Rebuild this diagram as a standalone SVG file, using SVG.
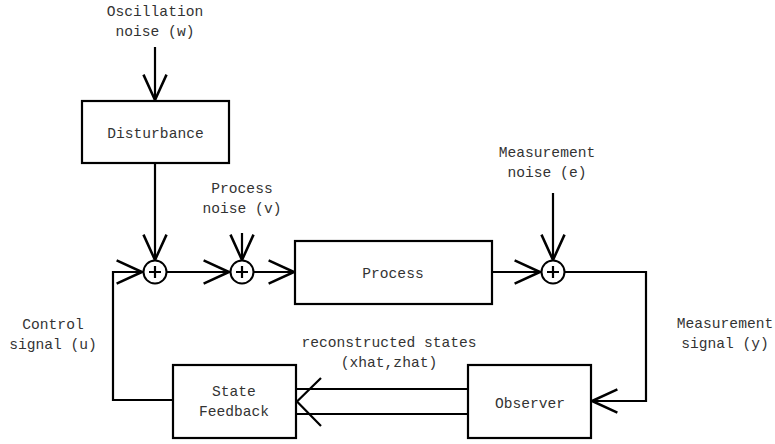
<svg xmlns="http://www.w3.org/2000/svg" width="775" height="444" viewBox="0 0 775 444">
<style>
.box{fill:#fff;stroke:#000;stroke-width:2.2}
.ln{fill:none;stroke:#000;stroke-width:2.2}
.sum{fill:#fff;stroke:#000;stroke-width:2}
text{font-family:"Liberation Mono","Courier New",monospace;font-size:14.6px;fill:#333;text-anchor:middle}
</style>
<defs>
<marker id="ah" markerUnits="userSpaceOnUse" markerWidth="30" markerHeight="30" viewBox="-24 -12 26 24" refX="0" refY="0" orient="auto">
<path d="M-22,-10 L0,0 L-22,10" fill="none" stroke="#000" stroke-width="2.2"/>
</marker>
</defs>
<rect width="775" height="444" fill="#fff"/>
<g id="connectors">
<line class="ln" x1="155" y1="47" x2="155" y2="100" marker-end="url(#ah)"/>
<line class="ln" x1="155" y1="163" x2="155" y2="260" marker-end="url(#ah)"/>
<line class="ln" x1="167" y1="272" x2="229" y2="272" marker-end="url(#ah)"/>
<line class="ln" x1="242" y1="233" x2="242" y2="260" marker-end="url(#ah)"/>
<line class="ln" x1="254" y1="272" x2="294" y2="272" marker-end="url(#ah)"/>
<line class="ln" x1="492" y1="272" x2="540" y2="272" marker-end="url(#ah)"/>
<line class="ln" x1="553" y1="193" x2="553" y2="260" marker-end="url(#ah)"/>
<polyline class="ln" points="565,272 646,272 646,401 592,401" marker-end="url(#ah)"/>
<polyline class="ln" points="173,400 113,400 113,272 142,272" marker-end="url(#ah)"/>
<line class="ln" x1="468" y1="389" x2="297" y2="389"/>
<line class="ln" x1="468" y1="414" x2="297" y2="414"/>
<polyline class="ln" points="321,378 297,401.5 321,426"/>
</g>
<g id="disturbance">
<rect class="box" x="82" y="101" width="147" height="62"/>
<text x="155.5" y="138">Disturbance</text>
</g>
<g id="process">
<rect class="box" x="295" y="241" width="197" height="63"/>
<text x="393" y="278">Process</text>
</g>
<g id="state-feedback">
<rect class="box" x="173" y="365" width="123" height="73"/>
<text x="234" y="396">State</text>
<text x="234" y="416">Feedback</text>
</g>
<g id="observer">
<rect class="box" x="468" y="365" width="123" height="73"/>
<text x="530" y="408">Observer</text>
</g>
<g id="sum1">
<circle class="sum" cx="155" cy="272" r="11.5"/>
<path class="ln" d="M149,272 H161 M155,266 V278"/>
</g>
<g id="sum2">
<circle class="sum" cx="242" cy="272" r="11.5"/>
<path class="ln" d="M236,272 H248 M242,266 V278"/>
</g>
<g id="sum3">
<circle class="sum" cx="553" cy="272" r="11.5"/>
<path class="ln" d="M547,272 H559 M553,266 V278"/>
</g>
<g id="labels">
<text x="155" y="16">Oscillation</text>
<text x="155" y="36">noise (w)</text>
<text x="242" y="193">Process</text>
<text x="242" y="213">noise (v)</text>
<text x="547" y="157">Measurement</text>
<text x="547" y="177">noise (e)</text>
<text x="53" y="329">Control</text>
<text x="53" y="349">signal (u)</text>
<text x="725" y="328">Measurement</text>
<text x="725" y="348">signal (y)</text>
<text x="389" y="347">reconstructed states</text>
<text x="389" y="367">(xhat,zhat)</text>
</g>
</svg>
